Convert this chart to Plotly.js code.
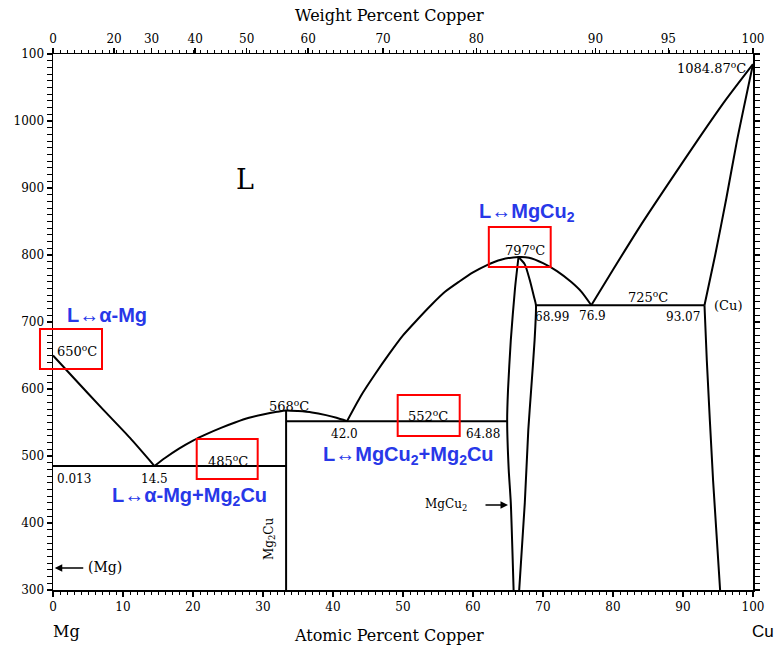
<!DOCTYPE html>
<html><head><meta charset="utf-8">
<script src="https://cdn.plot.ly/plotly-3.0.1.min.js"></script>
<style>html,body{margin:0;padding:0;background:#fff}</style>
</head><body><div id="chart" style="width:778px;height:646px"></div>
<script>
// ---- Data: atomic % Cu (x) and temperature in °C (T) ----
const mgLiquidusX = [0, 3, 7, 11, 14.5];
const mgLiquidusT = [650, 616, 571, 527, 485];

const eutectic485X = [0, 33.3];
const eutectic485T = [485, 485];

const mg2cuLiquidusX = [14.5, 16, 18, 20, 22, 24, 26, 28, 30, 32, 33.3, 35, 37, 39, 40.5, 42.0];
const mg2cuLiquidusT = [485, 497, 511, 523, 533, 542, 550, 557, 562, 566, 568, 567, 565, 561, 557, 552];

const mg2cuLineX = [33.3, 33.3];
const mg2cuLineT = [568, 300];

const eutectic552X = [33.3, 64.88];
const eutectic552T = [552, 552];

const mgcu2LiquidusX = [42.0, 44, 46, 48, 50, 52, 54, 56, 58, 60, 62, 64, 66.5, 68, 70, 72, 74, 75.5, 76.9];
const mgcu2LiquidusT = [552, 590, 622, 652, 680, 703, 725, 745, 760, 774, 785, 793, 797, 796, 788, 776, 760, 745, 725];

const mgcu2LeftX = [66.5, 66.0, 65.4, 65.0, 64.88, 65.1, 65.4, 65.8];
const mgcu2LeftT = [797, 750, 673, 598, 552, 480, 430, 300];

const mgcu2RightX = [66.5, 67.4, 68.1, 68.7, 68.99, 68.8, 68.3, 67.9, 67.4, 66.6];
const mgcu2RightT = [797, 786, 763, 738, 725, 673, 598, 539, 430, 300];

const eutectic725X = [68.99, 93.07];
const eutectic725T = [725, 725];

const cuLiquidusX = [76.9, 80, 84, 88, 92, 96, 100];
const cuLiquidusT = [725, 778, 845, 908, 970, 1030, 1084.87];

const cuSolidusX = [100, 97.7, 96.2, 94.6, 93.07];
const cuSolidusT = [1084.87, 970, 885, 800, 725];

const cuSolvusX = [93.07, 93.4, 94.3, 95.3];
const cuSolvusT = [725, 643, 463, 300];

// ---- Tick labels ----
const atTickVals = [0, 10, 20, 30, 40, 50, 60, 70, 80, 90, 100];
const atTickText = ['0', '10', '20', '30', '40', '50', '60', '70', '80', '90', '100'];
const wtTickPos = [0, 8.73, 14.08, 20.32, 27.67, 36.46, 47.16, 60.47, 77.49, 87.91, 100];
const wtTickText = ['0', '20', '30', '40', '50', '60', '70', '80', '90', '95', '100'];
const tTickVals = [300, 400, 500, 600, 700, 800, 900, 1000, 1100];
const tTickText = ['300', '400', '500', '600', '700', '800', '900', '1000', '100'];

// ---- Build traces ----
const segments = [
  [mgLiquidusX, mgLiquidusT], [eutectic485X, eutectic485T], [mg2cuLiquidusX, mg2cuLiquidusT],
  [mg2cuLineX, mg2cuLineT], [eutectic552X, eutectic552T], [mgcu2LiquidusX, mgcu2LiquidusT],
  [mgcu2LeftX, mgcu2LeftT], [mgcu2RightX, mgcu2RightT], [eutectic725X, eutectic725T],
  [cuLiquidusX, cuLiquidusT], [cuSolidusX, cuSolidusT], [cuSolvusX, cuSolvusT]
];
const traces = segments.map(s => ({
  x: s[0], y: s[1], type: 'scatter', mode: 'lines',
  line: {color: '#000', width: 2, shape: 'spline', smoothing: 0.6},
  hoverinfo: 'skip', showlegend: false
}));
traces.push({x: [0, 100], y: [300, 300], xaxis: 'x2', yaxis: 'y', type: 'scatter', mode: 'lines',
  line: {width: 0, color: 'rgba(0,0,0,0)'}, hoverinfo: 'skip', showlegend: false});

const serif = 'DejaVu Serif, serif';
const blue = '#2838e8';
function lbl(text, x, y, o) {
  return Object.assign({text: text, x: x, y: y, xref: 'x', yref: 'y', showarrow: false,
    xanchor: 'center', yanchor: 'middle',
    font: {family: serif, size: 12, color: '#000'}}, o || {});
}
function blueLbl(text, x, y) {
  return {text: text, x: x, y: y, xref: 'x', yref: 'y', showarrow: false,
    xanchor: 'center', yanchor: 'middle',
    font: {family: 'Liberation Sans, Arial, sans-serif', size: 20, color: blue, weight: 'bold'}};
}
function paperLbl(text, x, y, font) {
  return {text: text, x: x, y: y, xref: 'paper', yref: 'paper', showarrow: false,
    xanchor: 'center', yanchor: 'middle', font: font};
}
const t13 = {family: serif, size: 13, color: '#000'};
const annotations = [
  lbl('650<sup>o</sup>C', 0.3, 657, {xanchor: 'left', font: t13}),
  lbl('0.013', 0.3, 466, {xanchor: 'left'}),
  lbl('14.5', 14.5, 466),
  lbl('485<sup>o</sup>C', 25.0, 492, {font: t13}),
  lbl('568<sup>o</sup>C', 33.7, 575, {font: t13}),
  lbl('552<sup>o</sup>C', 53.5, 560, {font: t13}),
  lbl('42.0', 41.7, 533),
  lbl('64.88', 61.4, 533),
  lbl('797<sup>o</sup>C', 67.4, 808, {font: t13}),
  lbl('725<sup>o</sup>C', 85.0, 737, {font: t13}),
  lbl('(Cu)', 96.4, 725, {font: t13}),
  lbl('68.99', 71.25, 707),
  lbl('76.9', 77.0, 709),
  lbl('93.07', 90.0, 707),
  lbl('1084.87<sup>o</sup>C', 99.3, 1079, {xanchor: 'right', font: t13}),
  lbl('L', 27.4, 912, {font: {family: serif, size: 27, color: '#000'}}),
  lbl('(Mg)', 7.4, 334, {font: {family: serif, size: 14, color: '#000'}}),
  lbl('Mg<sub>2</sub>Cu', 31.0, 376, {textangle: -90}),
  lbl('MgCu<sub>2</sub>', 56.2, 427),
  {x: 0.25, y: 333, ax: 30, ay: 0, xref: 'x', yref: 'y', text: '', showarrow: true,
   arrowhead: 2, arrowsize: 1, arrowwidth: 1.5, arrowcolor: '#000'},
  {x: 65.0, y: 427, ax: -24, ay: 0, xref: 'x', yref: 'y', text: '', showarrow: true,
   arrowhead: 2, arrowsize: 1, arrowwidth: 1.5, arrowcolor: '#000'},
  blueLbl('L\u2194\u03b1-Mg', 7.67, 710),
  blueLbl('L\u2194\u03b1-Mg+Mg<sub>2</sub>Cu', 19.5, 439),
  blueLbl('L\u2194MgCu<sub>2</sub>+Mg<sub>2</sub>Cu', 50.8, 501),
  blueLbl('L\u2194MgCu<sub>2</sub>', 67.7, 864),
  paperLbl('Weight Percent Copper', 0.48, 1.071, {family: serif, size: 16, color: '#000'}),
  paperLbl('Atomic Percent Copper', 0.48, -0.0858, {family: serif, size: 16, color: '#000'}),
  paperLbl('Mg', 0.0186, -0.0765, {family: serif, size: 16, color: '#000'}),
  paperLbl('Cu', 1.014, -0.078, {family: 'Liberation Sans, Arial, sans-serif', size: 17, color: '#000'})
];

const red = {color: '#ff0000', width: 2};
const shapes = [
  {type: 'rect', xref: 'paper', yref: 'y', x0: -0.0186, x1: 0.07, y0: 630, y1: 689.6, line: red, fillcolor: 'rgba(0,0,0,0)'},
  {type: 'rect', xref: 'x', yref: 'y', x0: 20.53, x1: 29.24, y0: 465.7, y1: 525.4, line: red, fillcolor: 'rgba(0,0,0,0)'},
  {type: 'rect', xref: 'x', yref: 'y', x0: 49.24, x1: 58.1, y0: 530, y1: 591, line: red, fillcolor: 'rgba(0,0,0,0)'},
  {type: 'rect', xref: 'x', yref: 'y', x0: 62.26, x1: 71.1, y0: 782, y1: 841.8, line: red, fillcolor: 'rgba(0,0,0,0)'}
];

const tickFont = {family: serif, size: 12, color: '#000'};
const layout = {
  width: 778, height: 646,
  margin: {l: 53, r: 25, t: 54, b: 56},
  paper_bgcolor: '#fff', plot_bgcolor: '#fff',
  showlegend: false,
  xaxis: {range: [0, 100], tickmode: 'array', tickvals: atTickVals, ticktext: atTickText,
    ticks: 'outside', ticklen: 5, tickwidth: 1.5, tickcolor: '#000', showline: true, linewidth: 1.5,
    linecolor: '#000', showgrid: false, zeroline: false, tickfont: tickFont, fixedrange: true,
    minor: {ticks: 'outside', ticklen: 3, tickwidth: 1, tickcolor: '#000', dtick: 1, tick0: 0, showgrid: false}},
  xaxis2: {range: [0, 100], overlaying: 'x', side: 'top', anchor: 'y', tickmode: 'array',
    tickvals: wtTickPos, ticktext: wtTickText, ticks: 'outside', ticklen: 5, tickwidth: 1.5,
    tickcolor: '#000', showline: true, linewidth: 1.5, linecolor: '#000', showgrid: false,
    zeroline: false, tickfont: tickFont, fixedrange: true,
    minor: {ticks: 'outside', ticklen: 3, tickwidth: 1, tickcolor: '#000', dtick: 1, tick0: 0, showgrid: false}},
  yaxis: {range: [300, 1100], tickmode: 'array', tickvals: tTickVals, ticktext: tTickText,
    ticks: 'outside', ticklen: 5, tickwidth: 1.5, tickcolor: '#000', showline: true, linewidth: 1.5,
    linecolor: '#000', mirror: 'allticks', showgrid: false, zeroline: false, tickfont: tickFont,
    fixedrange: true,
    minor: {ticks: 'outside', ticklen: 3, tickwidth: 1, tickcolor: '#000', dtick: 10, tick0: 300, showgrid: false}},
  annotations: annotations,
  shapes: shapes
};
Plotly.newPlot('chart', traces, layout, {staticPlot: true, displayModeBar: false});
</script></body></html>
